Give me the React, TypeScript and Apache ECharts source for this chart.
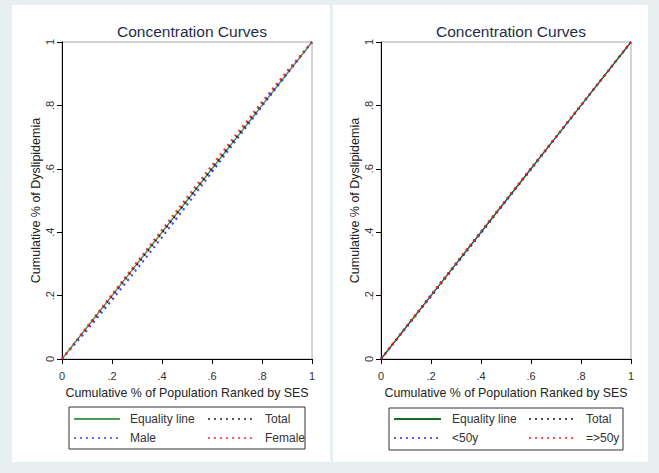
import React, { useEffect, useRef } from "react";
import * as echarts from "echarts";

const popShare = [0, 0.1, 0.2, 0.3, 0.4, 0.5, 0.6, 0.7, 0.8, 0.9, 1];
const equality = [0, 0.1, 0.2, 0.3, 0.4, 0.5, 0.6, 0.7, 0.8, 0.9, 1];
const totalLeft = [0, 0.098, 0.198, 0.298, 0.398, 0.499, 0.601, 0.702, 0.804, 0.904, 1];
const male = [0, 0.091, 0.186, 0.284, 0.384, 0.486, 0.59, 0.694, 0.797, 0.899, 1];
const female = [0, 0.102, 0.204, 0.306, 0.408, 0.51, 0.611, 0.711, 0.811, 0.908, 1];
const totalRight = [0, 0.1, 0.2, 0.3, 0.4, 0.5, 0.6, 0.7, 0.8, 0.9, 1];
const under50 = [0, 0.098, 0.197, 0.297, 0.397, 0.498, 0.598, 0.699, 0.799, 0.9, 1];
const over50 = [0, 0.102, 0.203, 0.303, 0.403, 0.503, 0.603, 0.702, 0.802, 0.901, 1];
const tickLabels = ["0", ".2", ".4", ".6", ".8", "1"];

const FONT = "Liberation Sans, Arial, sans-serif";

const pairs = (ys: number[]) => popShare.map((x, i) => [x, ys[i]]);

type Item = { name: string; ys: number[]; color: string; dashed: boolean };

function buildOption(items: Item[], gridLeft: number, legendCols: { icon: number; end: number; text: number }[], box: number[]) {
  const tickFmt = (v: number) => tickLabels[Math.round(v * 5)] ?? "";
  const rows = [414, 433];
  const legendGraphics: any[] = [];
  items.forEach((it, i) => {
    const col = legendCols[i % 2];
    const row = rows[Math.floor(i / 2)];
    legendGraphics.push({
      type: "line",
      silent: true,
      shape: { x1: col.icon, y1: row, x2: col.end, y2: row },
      style: it.dashed
        ? { stroke: it.color, lineWidth: 1.5, lineDash: [2, 4] }
        : { stroke: it.color, lineWidth: 2 },
    });
    legendGraphics.push({
      type: "text",
      silent: true,
      x: col.text,
      y: row,
      style: { text: it.name, fontFamily: FONT, fontSize: 12, fill: "#333", verticalAlign: "middle", align: "left" },
    });
  });
  return {
    animation: false,
    backgroundColor: "#ffffff",
    title: {
      text: "Concentration Curves",
      left: gridLeft + 125,
      textAlign: "center",
      top: 13,
      textStyle: { fontFamily: FONT, fontSize: 15.5, fontWeight: "normal", color: "#1f2d4d" },
    },
    grid: {
      left: gridLeft,
      top: 37,
      width: 250,
      height: 317,
      show: true,
      borderColor: "#a8a8a8",
      borderWidth: 1,
      backgroundColor: "#ffffff",
    },
    xAxis: {
      type: "value",
      min: 0,
      max: 1,
      interval: 0.2,
      name: "Cumulative % of Population Ranked by SES",
      nameLocation: "middle",
      nameGap: 28,
      nameMoveOverlap: false,
      nameTextStyle: { fontFamily: FONT, fontSize: 12.4, color: "#222" },
      axisLine: { show: true, lineStyle: { color: "#000", width: 1 } },
      axisTick: { show: true, length: 5, lineStyle: { color: "#000" } },
      axisLabel: { formatter: tickFmt, fontFamily: FONT, fontSize: 11, color: "#333", margin: 11 },
      splitLine: { show: false },
    },
    yAxis: {
      type: "value",
      min: 0,
      max: 1,
      interval: 0.2,
      name: "Cumulative % of Dyslipidemia",
      nameLocation: "middle",
      nameGap: 20,
      nameMoveOverlap: false,
      nameRotate: 90,
      nameTextStyle: { fontFamily: FONT, fontSize: 12.5, color: "#222" },
      axisLine: { show: true, lineStyle: { color: "#000", width: 1 } },
      axisTick: { show: true, length: 5, lineStyle: { color: "#000" } },
      axisLabel: { formatter: tickFmt, fontFamily: FONT, fontSize: 11, color: "#333", rotate: 90, margin: 7 },
      splitLine: { show: false },
    },
    graphic: [
      {
        type: "rect",
        silent: true,
        shape: { x: box[0], y: box[1], width: box[2] - box[0], height: box[3] - box[1] },
        style: { fill: "none", stroke: "#333", lineWidth: 1 },
      },
      ...legendGraphics,
    ],
    series: items.map((it) => ({
      type: "line",
      name: it.name,
      data: pairs(it.ys),
      showSymbol: false,
      symbol: "none",
      lineStyle: it.dashed
        ? { color: it.color, width: 2, type: [2, 4] }
        : { color: it.color, width: 1.5, type: "solid" },
      itemStyle: { color: it.color },
    })),
  };
}

function Panel({ style, option }: { style: React.CSSProperties; option: any }) {
  const ref = useRef<HTMLDivElement>(null);
  useEffect(() => {
    if (!ref.current) return;
    const chart = echarts.init(ref.current, undefined, { renderer: "svg" });
    chart.setOption(option);
    return () => chart.dispose();
  }, [option]);
  return <div ref={ref} style={style} />;
}

const leftItems: Item[] = [
  { name: "Equality line", ys: equality, color: "#4c9a4c", dashed: false },
  { name: "Total", ys: totalLeft, color: "#222222", dashed: true },
  { name: "Male", ys: male, color: "#3a3aff", dashed: true },
  { name: "Female", ys: female, color: "#ff2a2a", dashed: true },
];
const rightItems: Item[] = [
  { name: "Equality line", ys: equality, color: "#1d6b1d", dashed: false },
  { name: "Total", ys: totalRight, color: "#111111", dashed: true },
  { name: "<50y", ys: under50, color: "#2a2aff", dashed: true },
  { name: "=>50y", ys: over50, color: "#ff2020", dashed: true },
];

const leftOption = buildOption(
  leftItems,
  50,
  [{ icon: 62, end: 108, text: 118 }, { icon: 196, end: 244, text: 253 }],
  [57, 402, 293, 444]
);
const rightOption = buildOption(
  rightItems,
  48,
  [{ icon: 61, end: 108, text: 119 }, { icon: 196, end: 243, text: 253 }],
  [56, 403, 290, 445]
);

export default function App() {
  return (
    <div style={{ position: "fixed", left: 0, top: 0, width: 659, height: 473, background: "#e8eff1" }}>
      <Panel style={{ position: "absolute", left: 12, top: 5, width: 318, height: 457 }} option={leftOption} />
      <Panel style={{ position: "absolute", left: 333, top: 5, width: 315, height: 457 }} option={rightOption} />
    </div>
  );
}
